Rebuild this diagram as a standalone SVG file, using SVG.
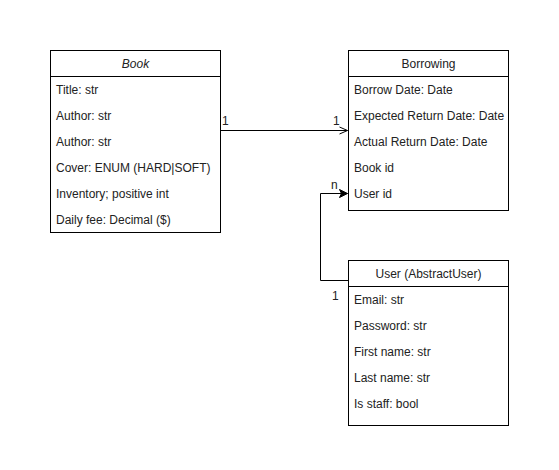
<svg xmlns="http://www.w3.org/2000/svg" width="559" height="470" viewBox="0 0 559 470">
<style>
.box{fill:#fff;stroke:#000;stroke-width:1}
.t{font-family:"Liberation Sans",Arial,sans-serif;font-size:12px;fill:#222}
.h{text-anchor:middle}
.ln{fill:none;stroke:#000;stroke-width:1}
</style>
<defs>
<marker id="open" markerWidth="10" markerHeight="10" refX="9" refY="5" orient="auto" markerUnits="userSpaceOnUse">
<path d="M1,1.5 L9,5 L1,8.5" fill="none" stroke="#000" stroke-width="1"/>
</marker>
<marker id="filled" markerWidth="10" markerHeight="10" refX="9" refY="5" orient="auto" markerUnits="userSpaceOnUse">
<path d="M1,1 L9,5 L1,9 L3,5 Z" fill="#000" stroke="#000" stroke-width="1"/>
</marker>
</defs>
<rect width="559" height="470" fill="#fff"/>
<g id="book">
<rect class="box" x="50.5" y="50.5" width="170" height="182"/>
<line class="ln" x1="50.5" y1="76.5" x2="220.5" y2="76.5"/>
<text class="t h" x="135.5" y="68" font-style="italic">Book</text>
<text class="t" x="56" y="94">Title: str</text>
<text class="t" x="56" y="120">Author: str</text>
<text class="t" x="56" y="146">Author: str</text>
<text class="t" x="56" y="172">Cover: ENUM (HARD|SOFT)</text>
<text class="t" x="56" y="198">Inventory; positive int</text>
<text class="t" x="56" y="224">Daily fee: Decimal ($)</text>
</g>
<g id="borrowing">
<rect class="box" x="348.5" y="50.5" width="160" height="160"/>
<line class="ln" x1="348.5" y1="76.5" x2="508.5" y2="76.5"/>
<text class="t h" x="428.5" y="68">Borrowing</text>
<text class="t" x="354" y="94">Borrow Date: Date</text>
<text class="t" x="354" y="120">Expected Return Date: Date</text>
<text class="t" x="354" y="146">Actual Return Date: Date</text>
<text class="t" x="354" y="172">Book id</text>
<text class="t" x="354" y="198">User id</text>
</g>
<g id="user">
<rect class="box" x="348.5" y="260.5" width="160" height="165"/>
<line class="ln" x1="348.5" y1="286.5" x2="508.5" y2="286.5"/>
<text class="t h" x="428.5" y="278">User (AbstractUser)</text>
<text class="t" x="354" y="304">Email: str</text>
<text class="t" x="354" y="330">Password: str</text>
<text class="t" x="354" y="356">First name: str</text>
<text class="t" x="354" y="382">Last name: str</text>
<text class="t" x="354" y="408">Is staff: bool</text>
</g>
<g id="connectors">
<path class="ln" d="M220.5,130.5 L347.5,130.5" marker-end="url(#open)"/>
<text class="t" x="222" y="125">1</text>
<text class="t" x="333" y="125">1</text>
<path class="ln" d="M348.5,280.5 L320.5,280.5 L320.5,193.5 L347.5,193.5" marker-end="url(#filled)"/>
<text class="t" x="331" y="189">n</text>
<text class="t" x="332" y="300">1</text>
</g>
</svg>
